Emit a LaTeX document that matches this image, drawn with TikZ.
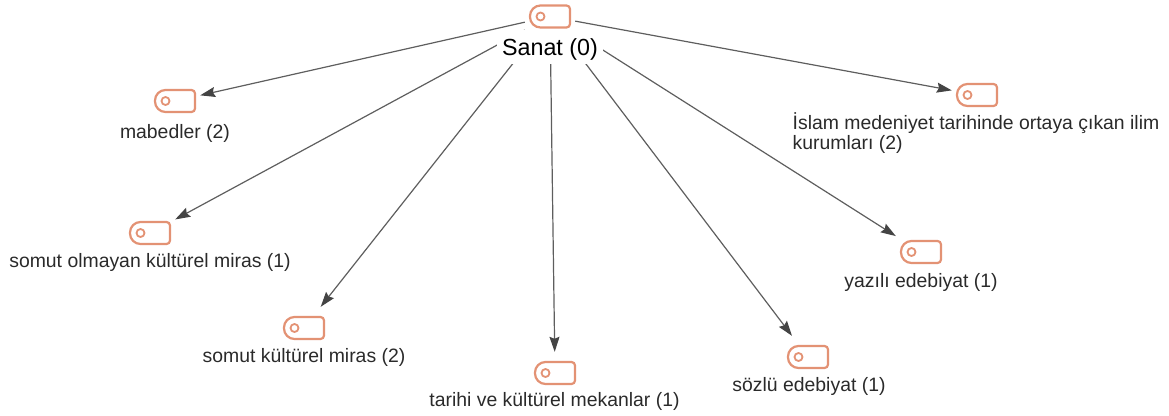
\documentclass[tikz,border=0pt]{standalone}
\usepackage{fontspec}
\setmainfont{Liberation Sans}
\usetikzlibrary{arrows.meta}

\definecolor{tagorange}{HTML}{E39274}
\definecolor{edgegray}{HTML}{5E5E5E}
\definecolor{tipgray}{HTML}{444444}
\definecolor{textgray}{HTML}{2A2A2A}
\tikzset{
  tagbox/.style={minimum width=50pt, minimum height=42pt, inner sep=0pt},
  tagline/.style={draw=tagorange, line width=2.2pt},
  tagicon/.pic={
    \draw[tagline, rounded corners=3.5pt] (0,-11) -- (20,-11) -- (20,11) -- (0,11)
      [rounded corners=10.5pt] -- (-20,11) -- (-20,-11) -- cycle;
    \draw[tagline, line width=1.8pt] (-9.5,0) circle[radius=4];
  },
  taglabel/.style={text=textgray, font=\fontsize{19.4}{20}\selectfont, inner sep=0pt},
  edge/.style={draw=edgegray, line width=1.2pt, -{Stealth[length=15pt, width=10pt, inset=2pt, color=tipgray]}}
}

\begin{document}
\begin{tikzpicture}[x=1pt, y=-1pt]
  \useasboundingbox (0,0) rectangle (1169,415);
  % Icons
  \foreach \name/\x/\y in {sanat/550/16.5, mabedler/175/101, olmayan/150/233, somut/304/328,
      mekanlar/555/373, sozlu/808/357, yazili/921/252, islam/977/95}{
    \node[tagbox] (\name) at (\x,\y) {};
    \path (\x,\y) pic {tagicon};
  }
  % Edges
  \foreach \name in {mabedler,olmayan,somut,mekanlar,sozlu,yazili,islam}{
    \draw[edge] (sanat) -- (\name);
  }
  % Labels
  \node[taglabel, fill=white, anchor=base, inner xsep=5pt, text height=25.5pt, text depth=9pt, font=\fontsize{23.3}{26}\selectfont, text=black] (sanatlabel) at (550,55) {Sanat (0)};
  \node[taglabel] (mabedlerlabel) at (175,133) {mabedler (2)};
  \node[taglabel] (olmayanlabel) at (150,262) {somut olmayan kültürel miras (1)};
  \node[taglabel] (somutlabel) at (304,357) {somut kültürel miras (2)};
  \node[taglabel] (mekanlarlabel) at (554.5,401) {tarihi ve kültürel mekanlar (1)};
  \node[taglabel] (sozlulabel) at (809,386) {sözlü edebiyat (1)};
  \node[taglabel] (yazililabel) at (921,282) {yazılı edebiyat (1)};
  \node[taglabel, align=left] (islamlabel) at (976,133) {İslam medeniyet tarihinde ortaya çıkan ilim\\kurumları (2)};
\end{tikzpicture}
\end{document}
